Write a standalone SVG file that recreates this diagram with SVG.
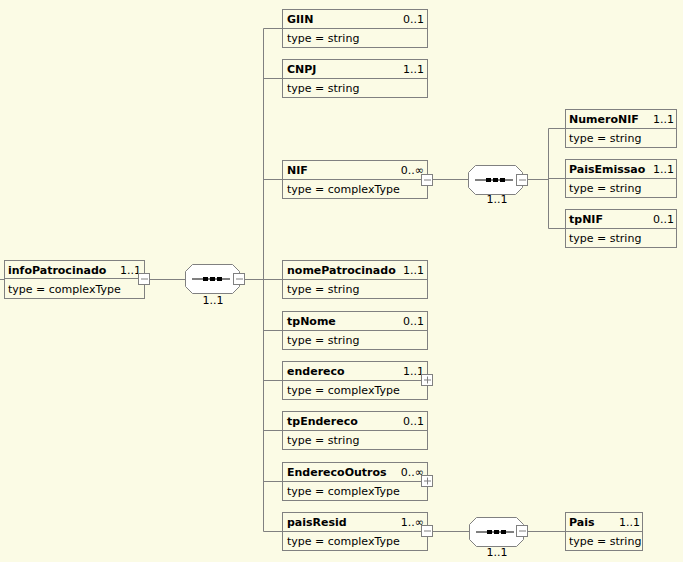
<svg xmlns="http://www.w3.org/2000/svg" width="683" height="562" viewBox="0 0 683 562">
<style>
.box{fill:none;stroke:#808080;stroke-width:1}
.ln{stroke:#808080;stroke-width:1;fill:none}
.t{font-family:"DejaVu Sans",Verdana,sans-serif;font-size:11px;fill:#000}
.b{font-weight:bold}
.c{text-anchor:end}
.m{text-anchor:middle}
.sq{fill:#fff;stroke:#808080;stroke-width:1}
.oct{fill:#fff;stroke:#808080;stroke-width:1}
</style>
<defs>
<g id="minus"><rect class="sq" x="0.5" y="0.5" width="11" height="11"/><line class="ln" x1="3" y1="6" x2="10" y2="6"/></g>
<g id="plus"><rect class="sq" x="0.5" y="0.5" width="11" height="11"/><line class="ln" x1="3" y1="6" x2="10" y2="6"/><line class="ln" x1="6.5" y1="2.5" x2="6.5" y2="9.5"/></g>
<g id="seq"><path class="oct" d="M7.5,0.5 H47.5 L54.5,7.5 V22.5 L47.5,29.5 H7.5 L0.5,22.5 V7.5 Z"/><line x1="7" y1="15" x2="45" y2="15" stroke="#000" stroke-width="1"/><rect x="18" y="13" width="5" height="4" fill="#000"/><rect x="25" y="13" width="5" height="4" fill="#000"/><rect x="32" y="13" width="5" height="4" fill="#000"/></g>
</defs>
<rect width="683" height="562" fill="#fbfbe5"/>
<g id="connectors">
<line class="ln" x1="0" y1="279.5" x2="4" y2="279.5"/>
<line class="ln" x1="150" y1="279.5" x2="185" y2="279.5"/>
<line class="ln" x1="245" y1="279.5" x2="263.5" y2="279.5"/>
<line class="ln" x1="263.5" y1="28.5" x2="263.5" y2="531.5"/>
<line class="ln" x1="263.5" y1="28.5" x2="282" y2="28.5"/>
<line class="ln" x1="263.5" y1="78.5" x2="282" y2="78.5"/>
<line class="ln" x1="263.5" y1="179.5" x2="282" y2="179.5"/>
<line class="ln" x1="263.5" y1="279.5" x2="282" y2="279.5"/>
<line class="ln" x1="263.5" y1="330.5" x2="282" y2="330.5"/>
<line class="ln" x1="263.5" y1="380.5" x2="282" y2="380.5"/>
<line class="ln" x1="263.5" y1="430.5" x2="282" y2="430.5"/>
<line class="ln" x1="263.5" y1="481.5" x2="282" y2="481.5"/>
<line class="ln" x1="263.5" y1="531.5" x2="282" y2="531.5"/>
<line class="ln" x1="433" y1="179.5" x2="468" y2="179.5"/>
<line class="ln" x1="528" y1="179.5" x2="548.5" y2="179.5"/>
<line class="ln" x1="548.5" y1="128.5" x2="548.5" y2="228.5"/>
<line class="ln" x1="548.5" y1="128.5" x2="565" y2="128.5"/>
<line class="ln" x1="548.5" y1="178.5" x2="565" y2="178.5"/>
<line class="ln" x1="548.5" y1="228.5" x2="565" y2="228.5"/>
<line class="ln" x1="433" y1="531.5" x2="469" y2="531.5"/>
<line class="ln" x1="528" y1="531.5" x2="565" y2="531.5"/>
</g>
<g id="infoPatrocinado">
<rect class="box" x="4.5" y="260.5" width="140" height="38"/><line class="ln" x1="4.5" y1="278.5" x2="144.5" y2="278.5"/>
<text class="t b" x="8" y="274">infoPatrocinado</text><text class="t c" x="141" y="274">1..1</text>
<text class="t" x="8" y="293">type = complexType</text>
<use href="#minus" x="138" y="273"/>
</g>
<g id="seq1"><use href="#seq" x="185" y="264"/><use href="#minus" x="233" y="273"/><text class="t m" x="213" y="304">1..1</text></g>
<g id="GIIN"><rect class="box" x="282.5" y="9.5" width="145" height="38"/><line class="ln" x1="282.5" y1="28.5" x2="427.5" y2="28.5"/><text class="t b" x="287" y="23">GIIN</text><text class="t c" x="424" y="23">0..1</text><text class="t" x="287" y="42">type = string</text></g>
<g id="CNPJ"><rect class="box" x="282.5" y="59.5" width="145" height="38"/><line class="ln" x1="282.5" y1="78.5" x2="427.5" y2="78.5"/><text class="t b" x="287" y="73">CNPJ</text><text class="t c" x="424" y="73">1..1</text><text class="t" x="287" y="92">type = string</text></g>
<g id="NIF"><rect class="box" x="282.5" y="160.5" width="145" height="38"/><line class="ln" x1="282.5" y1="179.5" x2="427.5" y2="179.5"/><text class="t b" x="287" y="174">NIF</text><text class="t c" x="424" y="174">0..∞</text><text class="t" x="287" y="193">type = complexType</text><use href="#minus" x="421" y="174"/></g>
<g id="seq2"><use href="#seq" x="468" y="165"/><use href="#minus" x="516" y="174"/><text class="t m" x="497" y="203">1..1</text></g>
<g id="NumeroNIF"><rect class="box" x="565.5" y="109.5" width="111" height="38"/><line class="ln" x1="565.5" y1="128.5" x2="676.5" y2="128.5"/><text class="t b" x="569" y="123">NumeroNIF</text><text class="t c" x="674" y="123">1..1</text><text class="t" x="569" y="142">type = string</text></g>
<g id="PaisEmissao"><rect class="box" x="565.5" y="159.5" width="111" height="38"/><line class="ln" x1="565.5" y1="178.5" x2="676.5" y2="178.5"/><text class="t b" x="569" y="173">PaisEmissao</text><text class="t c" x="674" y="173">1..1</text><text class="t" x="569" y="192">type = string</text></g>
<g id="tpNIF"><rect class="box" x="565.5" y="209.5" width="111" height="38"/><line class="ln" x1="565.5" y1="228.5" x2="676.5" y2="228.5"/><text class="t b" x="569" y="223">tpNIF</text><text class="t c" x="674" y="223">0..1</text><text class="t" x="569" y="242">type = string</text></g>
<g id="nomePatrocinado"><rect class="box" x="282.5" y="260.5" width="145" height="38"/><line class="ln" x1="282.5" y1="279.5" x2="427.5" y2="279.5"/><text class="t b" x="287" y="274">nomePatrocinado</text><text class="t c" x="424" y="274">1..1</text><text class="t" x="287" y="293">type = string</text></g>
<g id="tpNome"><rect class="box" x="282.5" y="311.5" width="145" height="38"/><line class="ln" x1="282.5" y1="330.5" x2="427.5" y2="330.5"/><text class="t b" x="287" y="325">tpNome</text><text class="t c" x="424" y="325">0..1</text><text class="t" x="287" y="344">type = string</text></g>
<g id="endereco"><rect class="box" x="282.5" y="361.5" width="145" height="38"/><line class="ln" x1="282.5" y1="380.5" x2="427.5" y2="380.5"/><text class="t b" x="287" y="375">endereco</text><text class="t c" x="424" y="375">1..1</text><text class="t" x="287" y="394">type = complexType</text><use href="#plus" x="421" y="374"/></g>
<g id="tpEndereco"><rect class="box" x="282.5" y="411.5" width="145" height="38"/><line class="ln" x1="282.5" y1="430.5" x2="427.5" y2="430.5"/><text class="t b" x="287" y="425">tpEndereco</text><text class="t c" x="424" y="425">0..1</text><text class="t" x="287" y="444">type = string</text></g>
<g id="EnderecoOutros"><rect class="box" x="282.5" y="462.5" width="145" height="38"/><line class="ln" x1="282.5" y1="481.5" x2="427.5" y2="481.5"/><text class="t b" x="287" y="476">EnderecoOutros</text><text class="t c" x="424" y="476">0..∞</text><text class="t" x="287" y="495">type = complexType</text><use href="#plus" x="421" y="475"/></g>
<g id="paisResid"><rect class="box" x="282.5" y="512.5" width="145" height="38"/><line class="ln" x1="282.5" y1="531.5" x2="427.5" y2="531.5"/><text class="t b" x="287" y="526">paisResid</text><text class="t c" x="424" y="526">1..∞</text><text class="t" x="287" y="545">type = complexType</text><use href="#minus" x="421" y="525"/></g>
<g id="seq3"><use href="#seq" x="469" y="517"/><use href="#minus" x="516" y="525"/><text class="t m" x="497" y="556">1..1</text></g>
<g id="Pais"><rect class="box" x="565.5" y="512.5" width="77" height="38"/><line class="ln" x1="565.5" y1="531.5" x2="642.5" y2="531.5"/><text class="t b" x="569" y="526">Pais</text><text class="t c" x="640" y="526">1..1</text><text class="t" x="569" y="545">type = string</text></g>
</svg>
